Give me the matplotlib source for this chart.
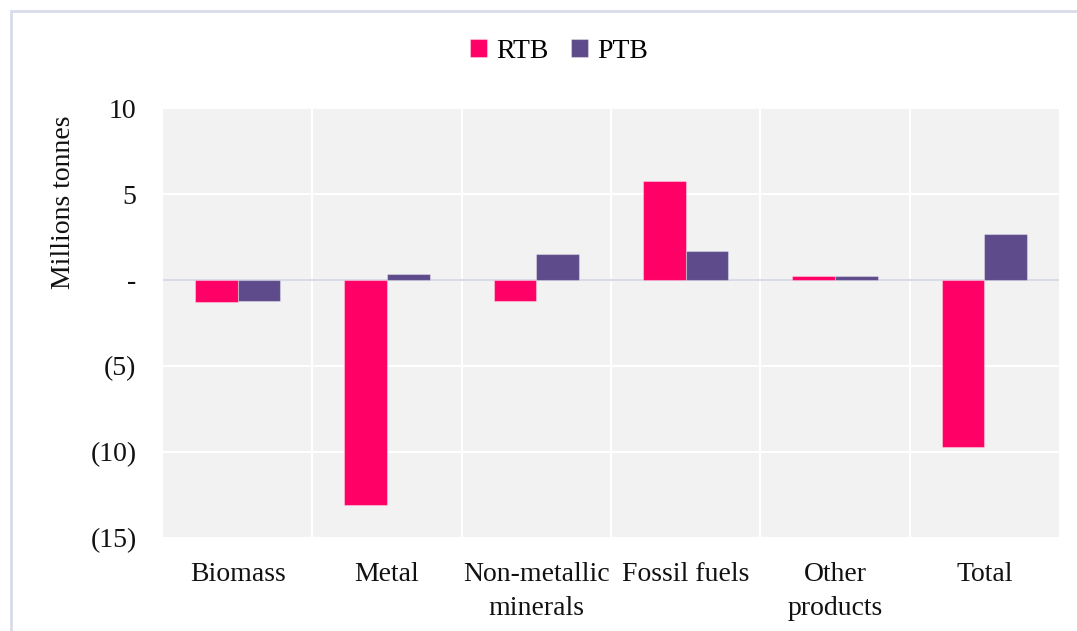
import matplotlib.pyplot as plt
import matplotlib.patches as mpatches
import numpy as np

categories = ["Biomass", "Metal", "Non-metallic\nminerals", "Fossil fuels", "Other\nproducts", "Total"]
rtb = [-1.3, -13.1, -1.2, 5.75, 0.23, -9.7]
ptb = [-1.2, 0.37, 1.5, 1.7, 0.22, 2.7]
yticks = [10, 5, 0, -5, -10, -15]
ytick_labels = ["10", "5", "-", "(5)", "(10)", "(15)"]

rtb_color = "#FF0066"
ptb_color = "#5E4B8B"

plt.rcParams["font.family"] = ["Liberation Serif", "DejaVu Serif"]

fig = plt.figure(figsize=(10.77, 6.31), dpi=100)
# light frame round the chart
fig.patches.append(mpatches.Rectangle((11 / 1077, -0.1), 1.2, 1 - 11 / 631 + 0.1,
                                      transform=fig.transFigure, fill=False,
                                      edgecolor="#D9DCE8", linewidth=2))

ax = fig.add_axes([163 / 1077, 1 - 538 / 631, (1059 - 163) / 1077, (538 - 108) / 631])
ax.set_facecolor("#F2F2F2")

x = np.arange(len(categories))
w = 0.286
ax.bar(x - w / 2, rtb, w, color=rtb_color, edgecolor=(1, 1, 1, 0.35), linewidth=0.8, label="RTB", zorder=3)
ax.bar(x + w / 2, ptb, w, color=ptb_color, edgecolor=(1, 1, 1, 0.35), linewidth=0.8, label="PTB", zorder=3)

ax.set_xlim(-0.5, len(categories) - 0.5)
ax.set_ylim(-15, 10)
for yy in yticks:
    ax.axhline(yy, color="white", linewidth=1.5, zorder=1)
for xx in np.arange(0.5, len(categories) - 0.5):
    ax.axvline(xx, color="white", linewidth=1.5, zorder=1)
ax.axhline(0, color="#D9DCE8", linewidth=1.5, zorder=2)

ax.set_yticks(yticks)
ax.set_yticklabels(ytick_labels)
ax.set_xticks(x)
ax.set_xticklabels(categories, linespacing=1.5)
ax.tick_params(axis="both", length=0, labelsize=20, colors="#111111")
ax.tick_params(axis="y", pad=19)
ax.tick_params(axis="x", pad=17)
for s in ax.spines.values():
    s.set_visible(False)

fig.text(63 / 1077, 1 - 202 / 631, "Millions tonnes", rotation=90, ha="center", va="center",
         fontsize=20, color="#111111")

fig.legend(loc="center", bbox_to_anchor=(559 / 1077, 1 - 51 / 631), ncol=2, frameon=False,
           fontsize=20, handlelength=0.6, handleheight=0.6, handletextpad=0.35, columnspacing=0.8)

fig.savefig("out.png", dpi=100)
